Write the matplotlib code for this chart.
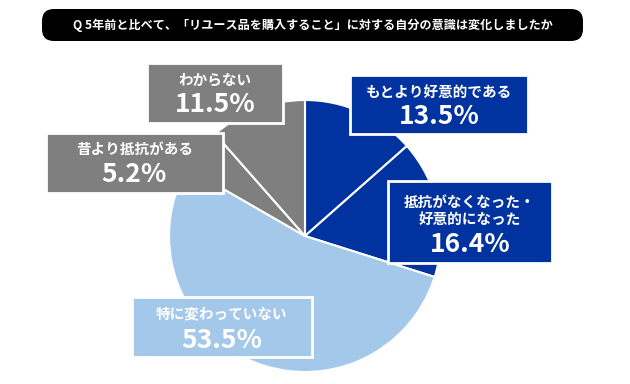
import matplotlib
matplotlib.use("Agg")
import matplotlib.pyplot as plt
from matplotlib.patches import FancyBboxPatch, Rectangle

plt.rcParams['font.family'] = ['Noto Sans CJK JP', 'DejaVu Sans']

title = "Q 5年前と比べて、「リユース品を購入すること」に対する自分の意識は変化しましたか"
categories = ["もとより好意的である", "抵抗がなくなった・\n好意的になった", "特に変わっていない",
              "昔より抵抗がある", "わからない"]
values = [13.5, 16.4, 53.5, 5.2, 11.5]
pct_labels = ["13.5%", "16.4%", "53.5%", "5.2%", "11.5%"]
colors = ["#0033a0", "#0033a0", "#a4c8ea", "#7f7f7f", "#7f7f7f"]

W, H = 630, 384
fig = plt.figure(figsize=(6.3, 3.84), dpi=100)
ax = fig.add_axes([0, 0, 1, 1])

def Y(y):
    return H - y

ax.pie(values, colors=colors, startangle=90, counterclock=False,
       center=(305, Y(236)), radius=136, frame=True,
       wedgeprops=dict(edgecolor='white', linewidth=1.5))
ax.set_xlim(0, W)
ax.set_ylim(0, H)
ax.set_aspect('equal')
ax.axis('off')

# title bar
bar = FancyBboxPatch((42 + 12, Y(41) + 12), 541 - 24, 32 - 24,
                     boxstyle="round,pad=12", facecolor='black', edgecolor='none')
ax.add_patch(bar)
ax.text(313, Y(25), title, color='white', fontsize=8.7, fontweight='bold',
        ha='center', va='center')

# label boxes: (x0, y0, x1, y1) in pixel coords, category line y, pct y
boxes = [
    (350, 75, 528, 134, 92, 116),
    (388, 181, 552, 263, 210, 245),
    (132, 297, 312, 357, 313, 340),
    (46, 133, 223, 193, 149, 174),
    (147, 63, 283, 123, 80, 105),
]
for (x0, y0, x1, y1, cy, py), cat, pct, col in zip(boxes, categories, pct_labels, colors):
    ax.add_patch(Rectangle((x0, Y(y1)), x1 - x0, y1 - y0, facecolor=col,
                           edgecolor='white', linewidth=2, zorder=3))
    xc = (x0 + x1) / 2
    ax.text(xc, Y(cy), cat, color='white', fontsize=10.5, fontweight='bold',
            ha='center', va='center', zorder=4, linespacing=1.1)
    ax.text(xc, Y(py), pct, color='white', fontsize=19, fontweight='bold',
            ha='center', va='center', zorder=4)

fig.savefig("out.png", dpi=100, facecolor='white')
